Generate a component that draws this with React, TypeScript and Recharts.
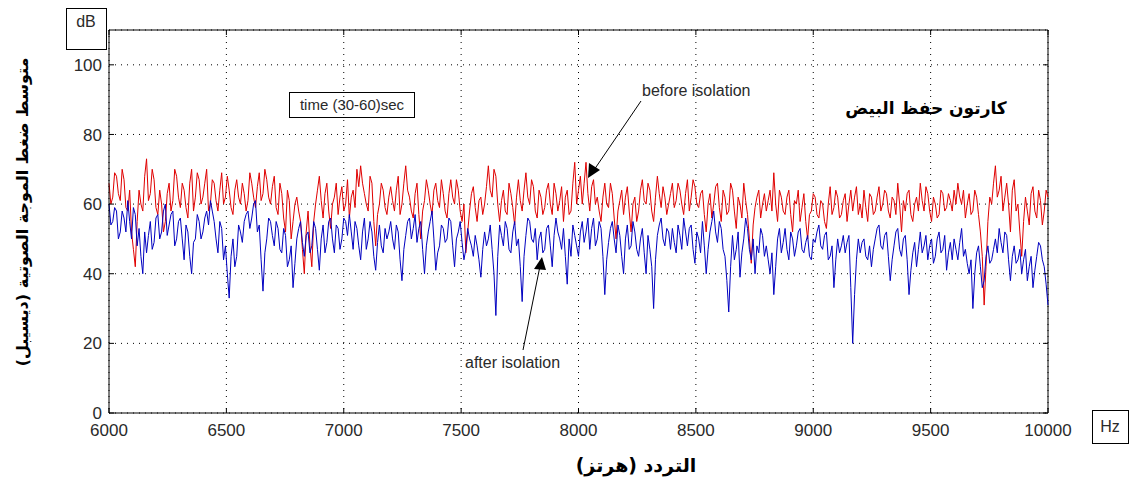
import React from 'react';
import { LineChart, Line, XAxis, YAxis, CartesianGrid, ReferenceLine } from 'recharts';

const START_HZ = 6000;
const STEP_HZ = 16;
const xTicks = [6000, 6500, 7000, 7500, 8000, 8500, 9000, 9500, 10000];
const yTicks = [0, 20, 40, 60, 80, 100];

// values at 6000, 6016, 6032, ... 10000 Hz
const beforeIsolation = [
  66, 62, 68, 61, 67, 58, 52, 42, 64, 58, 73, 63, 67, 57, 60, 55, 66, 61, 68, 59, 64, 56, 70, 62, 67,
  62, 70, 60, 66, 58, 69, 62, 64, 57, 67, 60, 63, 61, 66, 59, 69, 63, 67, 60, 68, 57, 63, 52, 61, 55,
  62, 55, 40, 58, 42, 60, 68, 56, 66, 53, 62, 57, 65, 60, 56, 64, 70, 71, 63, 58, 66, 48, 60, 64, 57,
  65, 58, 68, 60, 71, 62, 56, 66, 50, 61, 64, 57, 66, 59, 63, 56, 67, 60, 64, 55, 46, 58, 65, 55, 62,
  60, 71, 62, 68, 55, 64, 57, 63, 54, 67, 58, 69, 60, 65, 56, 62, 59, 66, 57, 63, 61, 55, 64, 58, 72,
  64, 60, 72, 58, 67, 62, 55, 66, 59, 63, 50, 61, 57, 65, 52, 62, 58, 67, 60, 64, 55, 68, 59, 62, 60,
  66, 61, 64, 57, 67, 62, 65, 59, 64, 52, 63, 60, 66, 55, 62, 58, 64, 53, 60, 66, 57, 43, 59, 64, 60,
  58, 64, 69, 55, 62, 57, 64, 52, 60, 55, 63, 50, 58, 62, 56, 60, 53, 65, 59, 62, 57, 63, 60, 58, 65,
  60, 64, 55, 62, 58, 65, 60, 63, 56, 61, 66, 52, 58, 64, 55, 62, 66, 58, 63, 55, 60, 57, 63, 59, 61,
  64, 66, 60, 56, 63, 58, 62, 52, 31, 55, 60, 71, 64, 58, 66, 52, 67, 60, 45, 62, 54, 65, 56, 61, 58, 62,
];

// values at 6008, 6024, ... 9992 Hz
const beforeIsolationMid = [
  60, 69, 63, 70, 59, 64, 47, 55, 60, 68, 61, 70, 59, 64, 52, 63, 58, 70, 62, 66, 59, 66, 58, 69, 60,
  66, 58, 67, 61, 64, 60, 68, 59, 64, 62, 66, 58, 69, 62, 65, 61, 70, 62, 65, 59, 66, 56, 64, 50, 60,
  58, 47, 52, 48, 55, 64, 61, 63, 58, 60, 66, 62, 58, 67, 62, 59, 65, 66, 60, 68, 55, 57, 66, 59, 62,
  61, 64, 57, 66, 64, 58, 63, 57, 58, 67, 60, 64, 61, 67, 58, 63, 62, 67, 58, 60, 52, 63, 59, 61, 57,
  65, 64, 70, 60, 61, 58, 66, 59, 62, 61, 64, 62, 67, 58, 64, 57, 64, 60, 66, 58, 65, 62, 57, 66, 60,
  68, 66, 63, 65, 60, 58, 62, 60, 66, 56, 58, 64, 62, 58, 60, 55, 64, 61, 66, 58, 62, 63, 65, 57, 63,
  59, 66, 60, 63, 58, 67, 60, 63, 57, 60, 56, 65, 59, 64, 57, 66, 58, 62, 56, 61, 50, 54, 62, 56, 63,
  61, 58, 60, 64, 58, 62, 57, 61, 64, 59, 55, 57, 63, 57, 61, 55, 60, 57, 64, 56, 61, 55, 64, 62, 57,
  56, 59, 63, 57, 62, 58, 64, 58, 62, 57, 60, 61, 63, 57, 60, 58, 61, 65, 58, 62, 56, 64, 58, 63, 58,
  60, 62, 64, 60, 57, 64, 57, 45, 42, 62, 66, 62, 68, 62, 60, 64, 58, 52, 55, 58, 63, 58, 64, 54, 64,
];

const afterIsolation = [
  60, 55, 58, 52, 56, 61, 50, 57, 53, 40, 46, 55, 49, 57, 52, 60, 54, 58, 50, 56, 44, 52, 40, 50, 55,
  52, 58, 61, 55, 46, 53, 48, 33, 50, 45, 52, 55, 58, 56, 61, 54, 35, 50, 55, 48, 53, 46, 51, 44, 36,
  50, 55, 45, 52, 48, 53, 41, 54, 49, 56, 46, 53, 50, 55, 57, 47, 53, 44, 56, 50, 52, 41, 54, 46, 50,
  55, 47, 52, 38, 51, 56, 53, 49, 55, 40, 52, 58, 41, 48, 53, 50, 55, 42, 52, 49, 47, 50, 45, 48, 39,
  52, 50, 47, 28, 54, 48, 53, 46, 55, 50, 32, 51, 55, 49, 44, 52, 47, 54, 42, 56, 50, 53, 37, 45, 51,
  45, 55, 52, 47, 56, 50, 53, 34, 49, 55, 46, 51, 40, 54, 48, 52, 45, 53, 40, 47, 30, 51, 56, 48, 52,
  53, 46, 51, 56, 48, 54, 43, 50, 55, 40, 52, 58, 49, 53, 45, 29, 51, 47, 39, 50, 53, 44, 40, 46, 51,
  48, 40, 34, 50, 46, 53, 44, 50, 48, 53, 46, 51, 44, 49, 54, 47, 52, 45, 36, 50, 48, 46, 51, 20, 44,
  46, 50, 44, 42, 50, 54, 47, 52, 38, 48, 53, 45, 51, 34, 46, 42, 52, 48, 44, 50, 45, 52, 47, 41, 49,
  50, 44, 53, 47, 40, 30, 46, 42, 38, 48, 44, 50, 53, 46, 51, 38, 48, 44, 40, 47, 42, 36, 45, 48, 42, 31,
];

const afterIsolationMid = [
  54, 59, 50, 58, 52, 55, 59, 48, 45, 52, 51, 47, 56, 50, 58, 51, 57, 48, 55, 50, 54, 45, 49, 57, 50,
  56, 54, 58, 50, 55, 44, 40, 45, 42, 54, 49, 57, 53, 60, 52, 44, 46, 56, 51, 55, 47, 53, 42, 48, 43,
  53, 49, 51, 46, 55, 47, 50, 46, 55, 50, 54, 47, 56, 51, 52, 55, 48, 52, 47, 55, 45, 49, 48, 53, 52,
  50, 54, 44, 47, 55, 50, 57, 53, 47, 48, 55, 50, 46, 54, 49, 56, 48, 50, 55, 44, 53, 48, 51, 44, 47,
  48, 54, 40, 45, 51, 55, 47, 52, 48, 42, 45, 56, 50, 53, 50, 46, 53, 48, 51, 52, 47, 45, 50, 54, 48,
  52, 49, 56, 53, 48, 55, 45, 44, 53, 50, 54, 45, 50, 47, 55, 47, 50, 46, 51, 42, 44, 54, 50, 53, 47,
  49, 54, 47, 52, 53, 47, 52, 46, 48, 47, 55, 52, 55, 47, 38, 42, 44, 52, 46, 56, 47, 50, 48, 53, 45,
  44, 46, 42, 53, 49, 47, 52, 45, 52, 47, 49, 45, 50, 52, 48, 51, 44, 48, 44, 46, 51, 49, 36, 34, 50,
  49, 45, 48, 47, 53, 48, 51, 45, 44, 52, 47, 50, 44, 41, 49, 47, 46, 51, 48, 43, 50, 46, 51, 46, 44,
  47, 49, 45, 43, 44, 40, 48, 36, 45, 43, 47, 46, 49, 52, 44, 45, 43, 47, 44, 38, 45, 41, 49, 44, 37,
];

type Pt = { hz: number; before: number; after: number };
const data: Pt[] = [];
beforeIsolation.forEach((v, i) => {
  data.push({ hz: START_HZ + i * STEP_HZ, before: v, after: afterIsolation[i] });
  if (i < beforeIsolationMid.length) {
    data.push({
      hz: START_HZ + i * STEP_HZ + STEP_HZ / 2,
      before: beforeIsolationMid[i],
      after: afterIsolationMid[i],
    });
  }
});

const W = 1134;
const H = 477;
const PL = 109;
const PR = 1048;
const PT = 30;
const PB = 413;
const FONT = '"Liberation Sans", Arial, sans-serif';
const AR_FONT = '"DejaVu Sans", "Liberation Sans", sans-serif';
const TXT = '#2a2a2a';

const XTick = (props: any) => {
  const { x, y, payload } = props;
  return (
    <g>
      <line x1={x} y1={y} x2={x} y2={y - 5} stroke="#000" />
      <line x1={x} y1={PT} x2={x} y2={PT + 5} stroke="#000" />
      <text x={x} y={y + 23} textAnchor="middle" fontFamily={FONT} fontSize={17} fill={TXT}>
        {payload.value}
      </text>
    </g>
  );
};

const YTick = (props: any) => {
  const { x, y, payload } = props;
  return (
    <g>
      <line x1={x} y1={y} x2={x + 5} y2={y} stroke="#000" />
      <line x1={PR - 5} y1={y} x2={PR} y2={y} stroke="#000" />
      <text x={x - 7} y={y} dy="0.36em" textAnchor="end" fontFamily={FONT} fontSize={17} fill={TXT}>
        {payload.value}
      </text>
    </g>
  );
};

export default function App() {
  return (
    <div style={{ position: 'absolute', left: 0, top: 0, width: W, height: H, background: '#fff' }}>
      <LineChart
        width={W}
        height={H}
        data={data}
        margin={{ top: PT, right: W - PR, left: 0, bottom: H - PB - 30 }}
      >
        <CartesianGrid stroke="#000" strokeDasharray="1 5" />
        <XAxis
          dataKey="hz"
          type="number"
          domain={[6000, 10000]}
          ticks={xTicks}
          height={30}
          tickSize={0}
          tickMargin={0}
          tickLine={false}
          axisLine={{ stroke: '#000' }}
          tick={<XTick />}
          interval={0}
        />
        <YAxis
          type="number"
          domain={[0, 110]}
          ticks={yTicks}
          width={PL}
          tickSize={0}
          tickMargin={0}
          tickLine={false}
          axisLine={{ stroke: '#000' }}
          tick={<YTick />}
          interval={0}
        />
        <ReferenceLine y={110} stroke="#000" />
        <ReferenceLine x={10000} stroke="#000" />
        <Line type="linear" dataKey="before" stroke="#e00000" strokeWidth={1} dot={false} isAnimationActive={false} />
        <Line type="linear" dataKey="after" stroke="#0000c0" strokeWidth={1} dot={false} isAnimationActive={false} />
      </LineChart>
      <svg width={W} height={H} style={{ position: 'absolute', left: 0, top: 0, pointerEvents: 'none' }}>
        <rect x={66.5} y={8.5} width={40} height={41} fill="#fff" stroke="#000" />
        <text x={86} y={27} textAnchor="middle" fontFamily={FONT} fontSize={16} fill={TXT}>dB</text>
        <rect x={1092.5} y={410.5} width={36} height={33} fill="#fff" stroke="#000" />
        <text x={1110} y={432} textAnchor="middle" fontFamily={FONT} fontSize={16} fill={TXT}>Hz</text>
        <rect x={289.5} y={92.5} width={125} height={25} fill="none" stroke="#000" />
        <text x={352} y={110} textAnchor="middle" fontFamily={FONT} fontSize={15} fill={TXT}>time (30-60)sec</text>
        <text x={926} y={114} textAnchor="middle" fontFamily={AR_FONT} fontWeight="bold" fontSize={17} fill="#000" direction="rtl">كارتون حفظ البيض</text>
        <text x={642} y={96} fontFamily={FONT} fontSize={16} fill={TXT}>before isolation</text>
        <line x1={641} y1={101} x2={594} y2={170} stroke="#000" />
        <polygon points="588,178 589,163 600,170" fill="#000" />
        <text x={465} y={368} fontFamily={FONT} fontSize={16} fill={TXT}>after isolation</text>
        <line x1={523} y1={350} x2={540} y2={266} stroke="#000" />
        <polygon points="542,257 534,269 546,270" fill="#000" />
        <text
          x={23}
          y={212}
          transform="rotate(-90 23 212)"
          textAnchor="middle"
          dominantBaseline="middle"
          fontFamily={AR_FONT}
          fontWeight="bold"
          fontSize={16}
          fill="#000"
          direction="rtl"
        >
          متوسط ضغط الموجة الصوتية (ديسيبل)
        </text>
        <text x={636} y={472} textAnchor="middle" fontFamily={AR_FONT} fontWeight="bold" fontSize={19} fill="#000" direction="rtl">
          التردد (هرتز)
        </text>
      </svg>
    </div>
  );
}
